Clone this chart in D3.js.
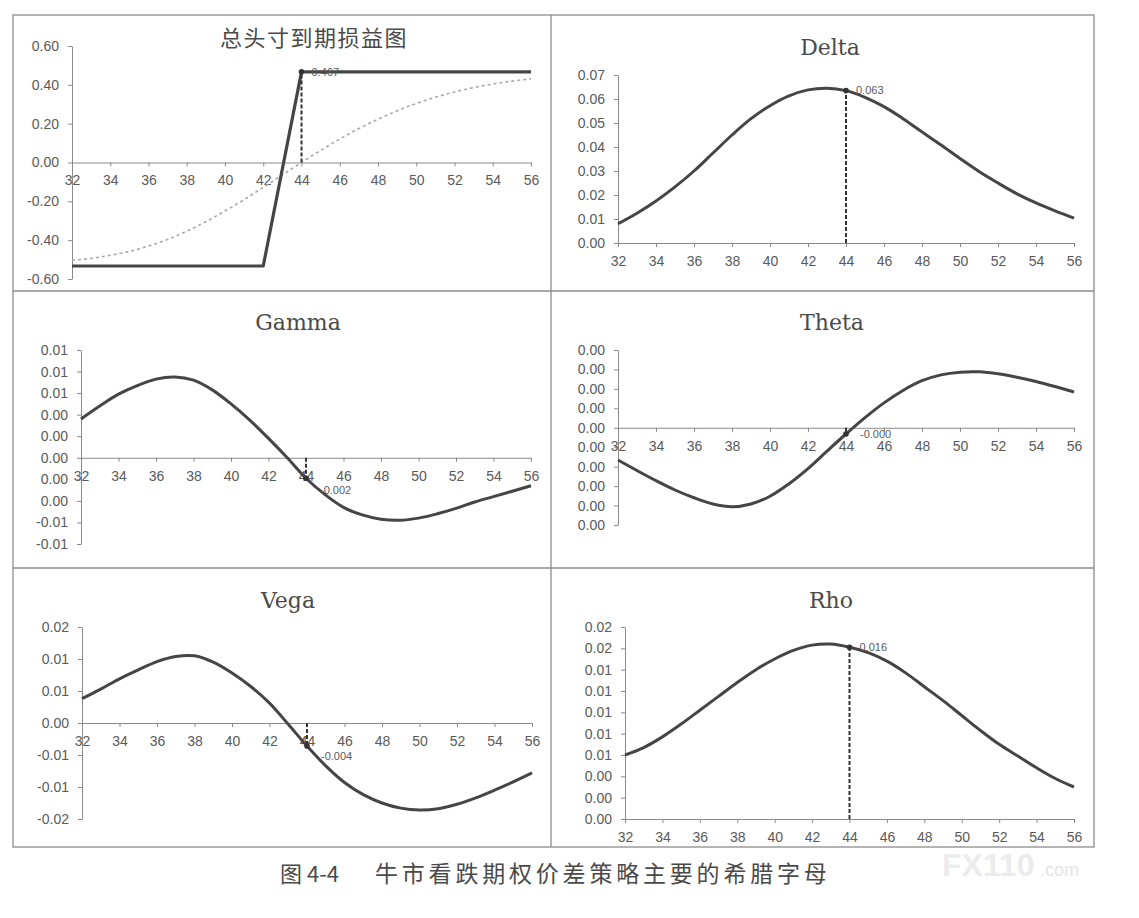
<!DOCTYPE html>
<html>
<head>
<meta charset="utf-8">
<script src="https://cdn.jsdelivr.net/npm/d3@7"></script>
<style>
  body { margin: 0; background: #fff; }
  .tick text { font-family: "Liberation Sans", Arial, sans-serif; font-size: 14px; fill: #5a5a5a; }
  .domain, .tick line { stroke: #8a8a8a; }
</style>
</head>
<body>
<div id="chart"></div>
<script>
// underlying price at expiry / today
var strikes = [32, 33, 34, 35, 36, 37, 38, 39, 40, 41, 42, 43, 44, 45, 46, 47, 48, 49, 50, 51, 52, 53, 54, 55, 56];

// P&L of the whole position
var pnlExpiry = [-0.533, -0.533, -0.533, -0.533, -0.533, -0.533, -0.533, -0.533, -0.533, -0.533, -0.533, -0.033, 0.467,
                 0.467, 0.467, 0.467, 0.467, 0.467, 0.467, 0.467, 0.467, 0.467, 0.467, 0.467, 0.467];
var pnlNow = [-0.503, -0.494, -0.478, -0.458, -0.430, -0.396, -0.354, -0.305, -0.250, -0.191, -0.128, -0.064, 0.000,
              0.062, 0.121, 0.175, 0.223, 0.266, 0.304, 0.336, 0.363, 0.386, 0.404, 0.419, 0.431];

// greeks
var delta = [0.0080, 0.0124, 0.0175, 0.0234, 0.0300, 0.0375, 0.0450, 0.0518, 0.0572, 0.0613, 0.0638, 0.0645, 0.0635,
             0.0607, 0.0568, 0.0518, 0.0463, 0.0408, 0.0352, 0.0298, 0.0250, 0.0205, 0.0167, 0.0134, 0.0104];
var gamma = [0.0036, 0.0048, 0.0059, 0.0067, 0.0073, 0.0075, 0.0072, 0.0063, 0.0050, 0.0035, 0.0018, 0.0000, -0.0019,
             -0.0034, -0.0046, -0.0053, -0.0057, -0.0058, -0.0056, -0.0052, -0.0047, -0.0041, -0.0036, -0.0031, -0.0026];
var theta = [-0.00083, -0.00110, -0.00136, -0.00160, -0.00180, -0.00196, -0.00203, -0.00196, -0.00176, -0.00144, -0.00105, -0.00060, -0.00016,
             0.00026, 0.00064, 0.00096, 0.00121, 0.00136, 0.00143, 0.00144, 0.00139, 0.00130, 0.00119, 0.00106, 0.00092];
var vega = [0.0038, 0.0053, 0.0069, 0.0083, 0.0096, 0.0104, 0.0105, 0.0095, 0.0078, 0.0057, 0.0031, -0.0002, -0.0036,
            -0.0067, -0.0093, -0.0112, -0.0125, -0.0133, -0.0136, -0.0134, -0.0127, -0.0117, -0.0105, -0.0092, -0.0078];
var rho = [0.0060, 0.0067, 0.0077, 0.0089, 0.0102, 0.0115, 0.0128, 0.0140, 0.0150, 0.0158, 0.0163, 0.0164, 0.0161,
           0.0156, 0.0148, 0.0137, 0.0124, 0.0111, 0.0097, 0.0083, 0.0070, 0.0059, 0.0048, 0.0038, 0.0030];

// axes
var xTicks = [32, 34, 36, 38, 40, 42, 44, 46, 48, 50, 52, 54, 56];
var pnlTicks = [-0.6, -0.4, -0.2, 0, 0.2, 0.4, 0.6];
var pnlLabels = ["-0.60", "-0.40", "-0.20", "0.00", "0.20", "0.40", "0.60"];
var deltaTicks = [0, 0.01, 0.02, 0.03, 0.04, 0.05, 0.06, 0.07];
var deltaLabels = ["0.00", "0.01", "0.02", "0.03", "0.04", "0.05", "0.06", "0.07"];
var gammaTicks = [-0.008, -0.006, -0.004, -0.002, 0, 0.002, 0.004, 0.006, 0.008, 0.010];
var gammaLabels = ["-0.01", "-0.01", "0.00", "0.00", "0.00", "0.00", "0.00", "0.01", "0.01", "0.01"];
var thetaTicks = [-0.0025, -0.002, -0.0015, -0.001, -0.0005, 0, 0.0005, 0.001, 0.0015, 0.002];
var thetaLabels = ["0.00", "0.00", "0.00", "0.00", "0.00", "0.00", "0.00", "0.00", "0.00", "0.00"];
var vegaTicks = [-0.015, -0.010, -0.005, 0, 0.005, 0.010, 0.015];
var vegaLabels = ["-0.02", "-0.01", "-0.01", "0.00", "0.01", "0.01", "0.02"];
var rhoTicks = [0, 0.002, 0.004, 0.006, 0.008, 0.010, 0.012, 0.014, 0.016, 0.018];
var rhoLabels = ["0.00", "0.00", "0.00", "0.01", "0.01", "0.01", "0.01", "0.01", "0.02", "0.02"];

var titles = ["总头寸到期损益图", "Delta", "Gamma", "Theta", "Vega", "Rho"];
var spotPrice = 44;
var spotLabels = ["0.467", "0.063", "-0.002", "-0.000", "-0.004", "0.016"];
var captionNo = "图 4-4";
var captionText = "牛市看跌期权价差策略主要的希腊字母";

var W = 1139, H = 918;
var lineColor = "#454545";
var svg = d3.select("#chart").append("svg")
    .attr("width", W)
    .attr("height", H);

// frame: 3 rows x 2 cols
var colX = [13, 551, 1094];
var rowY = [15, 291, 568, 847];
svg.append("rect")
    .attr("x", colX[0]).attr("y", rowY[0])
    .attr("width", colX[2] - colX[0]).attr("height", rowY[3] - rowY[0])
    .attr("fill", "none").attr("stroke", "#8c8c8c").attr("stroke-width", 1.3);
svg.append("line")
    .attr("x1", colX[1]).attr("x2", colX[1]).attr("y1", rowY[0]).attr("y2", rowY[3])
    .attr("stroke", "#8c8c8c").attr("stroke-width", 1.3);
[rowY[1], rowY[2]].forEach(yy => {
    svg.append("line")
        .attr("x1", colX[0]).attr("x2", colX[2]).attr("y1", yy).attr("y2", yy)
        .attr("stroke", "#8c8c8c").attr("stroke-width", 1.3);
});

// lab: nudge of the spot label so it clears the x tick labels
var panels = [
    { values: pnlExpiry, extra: pnlNow, ticks: pnlTicks, labels: pnlLabels, x0: 72, x1: 531, y0: 279, y1: 46, tx: 314, ty: 38, cjk: true, lab: [10, 0] },
    { values: delta, ticks: deltaTicks, labels: deltaLabels, x0: 618, x1: 1074, y0: 243, y1: 75, tx: 830, ty: 47, lab: [10, 0] },
    { values: gamma, ticks: gammaTicks, labels: gammaLabels, x0: 81, x1: 531, y0: 544, y1: 350, tx: 298, ty: 322, lab: [14, 12] },
    { values: theta, ticks: thetaTicks, labels: thetaLabels, x0: 618, x1: 1074, y0: 525, y1: 350, tx: 832, ty: 322, lab: [14, 0] },
    { values: vega, ticks: vegaTicks, labels: vegaLabels, x0: 82, x1: 532, y0: 819, y1: 627, tx: 288, ty: 600, lab: [14, 10] },
    { values: rho, ticks: rhoTicks, labels: rhoLabels, x0: 625, x1: 1074, y0: 819, y1: 627, tx: 831, ty: 600, lab: [10, 0] }
];

panels.forEach((p, k) => {
    var x = d3.scaleLinear().domain([32, 56]).range([p.x0, p.x1]);
    var y = d3.scaleLinear().domain([p.ticks[0], p.ticks[p.ticks.length - 1]]).range([p.y0, p.y1]);

    // title
    svg.append("text")
        .attr("x", p.tx).attr("y", p.ty)
        .attr("dy", "0.36em")
        .attr("text-anchor", "middle")
        .style("font-family", p.cjk ? "'Noto Sans CJK SC', sans-serif" : "'DejaVu Serif', serif")
        .style("font-size", "22px")
        .style("letter-spacing", p.cjk ? "1.5px" : "0px")
        .style("fill", "#4a4a4a")
        .text(titles[k]);

    // y axis
    svg.append("g")
        .attr("transform", "translate(" + p.x0 + ",0)")
        .call(d3.axisLeft(y).tickValues(p.ticks)
            .tickFormat((d, i) => p.labels[i])
            .tickSize(4).tickSizeOuter(0).tickPadding(9));

    // x axis sits on zero
    svg.append("g")
        .attr("transform", "translate(0," + y(0) + ")")
        .call(d3.axisBottom(x).tickValues(xTicks)
            .tickFormat(d => d)
            .tickSize(4).tickSizeOuter(0).tickPadding(9));

    var pts = strikes.map((s, i) => ({ s: s, v: p.values[i] }));

    if (p.extra) {
        var now = strikes.map((s, i) => ({ s: s, v: p.extra[i] }));
        svg.append("path")
            .datum(now)
            .attr("fill", "none")
            .attr("stroke", "#a8a8a8")
            .attr("stroke-width", 1.6)
            .attr("stroke-dasharray", "3,3")
            .attr("d", d3.line().x(d => x(d.s)).y(d => y(d.v)).curve(d3.curveMonotoneX));
    }

    svg.append("path")
        .datum(pts)
        .attr("fill", "none")
        .attr("stroke", lineColor)
        .attr("stroke-width", p.extra ? 3.2 : 3)
        .attr("stroke-linejoin", "round")
        .attr("d", d3.line().x(d => x(d.s)).y(d => y(d.v))
            .curve(p.extra ? d3.curveLinear : d3.curveCatmullRom));

    // spot marker with drop line
    var sv = p.values[strikes.indexOf(spotPrice)];
    svg.append("line")
        .attr("x1", x(spotPrice)).attr("x2", x(spotPrice))
        .attr("y1", y(0)).attr("y2", y(sv))
        .attr("stroke", "#333")
        .attr("stroke-width", 2)
        .attr("stroke-dasharray", "4,2");
    svg.append("circle")
        .attr("cx", x(spotPrice)).attr("cy", y(sv))
        .attr("r", 2.8)
        .attr("fill", "#333");
    svg.append("text")
        .attr("x", x(spotPrice) + p.lab[0])
        .attr("y", y(sv) + p.lab[1])
        .attr("dy", "0.35em")
        .style("font-family", "'Liberation Sans', Arial, sans-serif")
        .style("font-size", "11px")
        .style("fill", "#5a5a5a")
        .text(spotLabels[k]);
});

// watermark
svg.append("text")
    .attr("x", 942).attr("y", 876)
    .style("font-family", "'Liberation Sans', Arial, sans-serif")
    .style("font-weight", "bold")
    .style("font-size", "32px")
    .style("fill", "#ececec")
    .text("FX110");
svg.append("text")
    .attr("x", 1040).attr("y", 876)
    .style("font-family", "'Liberation Sans', Arial, sans-serif")
    .style("font-size", "18px")
    .style("fill", "#e4e4e4")
    .text(".com");

// caption
svg.append("text")
    .attr("x", 280).attr("y", 882)
    .style("font-family", "'Noto Sans CJK SC', sans-serif")
    .style("font-size", "22px")
    .style("fill", "#4a4a4a")
    .text(captionNo);
svg.append("text")
    .attr("x", 375).attr("y", 882)
    .style("font-family", "'Noto Sans CJK SC', sans-serif")
    .style("font-size", "23px")
    .style("letter-spacing", "3.8px")
    .style("fill", "#4a4a4a")
    .text(captionText);
</script>
</body>
</html>
